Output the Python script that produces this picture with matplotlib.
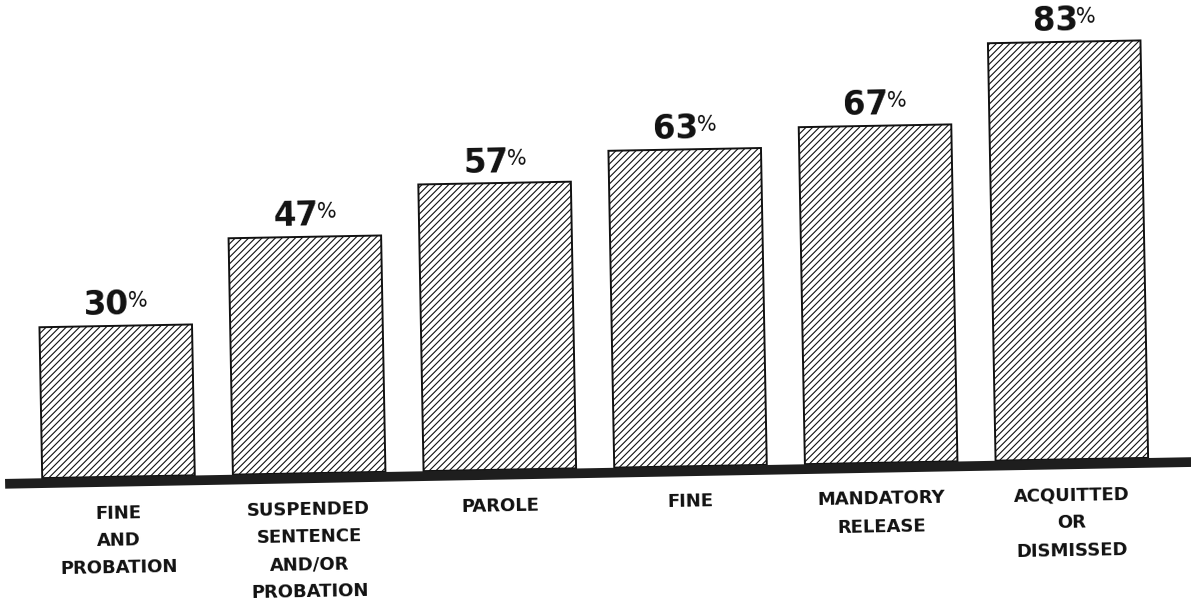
import matplotlib
matplotlib.use("Agg")
import matplotlib.pyplot as plt
from matplotlib.transforms import Affine2D
import numpy as np

categories = ["FINE\nAND\nPROBATION",
              "SUSPENDED\nSENTENCE\nAND/OR\nPROBATION",
              "PAROLE",
              "FINE",
              "MANDATORY\nRELEASE",
              "ACQUITTED\nOR\nDISMISSED"]
values = [30, 47, 57, 63, 67, 83]

plt.rcParams['hatch.linewidth'] = 0.8
plt.rcParams['hatch.color'] = '#111111'

W, H, DPI = 1191, 610, 100
fig = plt.figure(figsize=(W / DPI, H / DPI), dpi=DPI)
ax = fig.add_axes([0, 0, 1, 1])
ax.set_axis_off()

# unrotated frame: bar i centred at px 118.5 + 190.7 i, value 0 at px 142, 5.03 px per %
x0, dx = 118.5, 190.7
y0, dy = 142.0, 5.03
ax.set_xlim(-x0 / dx, (W - x0) / dx)
ax.set_ylim(-y0 / dy, (H - y0) / dy)

# the scanned page is tilted by about one degree
rot = Affine2D().rotate_deg_around(595, 137.5, 1.05)
tr = ax.transData + rot

x = np.arange(len(values))
bars = ax.bar(x, values, width=0.8, color='white', edgecolor='#111111',
              linewidth=1.4, hatch='/////')
for b in bars:
    b.set_transform(tr)

# baseline
base_y = (137.0 - y0) / dy
ax.plot([(5 - x0) / dx, (W + 10 - x0) / dx], [base_y, base_y], color='#1e1e1e',
        linewidth=7.0, solid_capstyle='butt', transform=tr)

for i, v in enumerate(values):
    t = ax.annotate(f"{v}", xy=(i, v), xycoords=tr, xytext=(-6.5, 7.5),
                    textcoords='offset points', ha='center', va='baseline',
                    fontsize=23.5, fontweight='bold', family='DejaVu Sans',
                    color='#111111', rotation=1.05)
    ax.annotate("%", xy=(1.0, 0.93), xycoords=t, xytext=(-1.5, 0),
                textcoords='offset points', ha='left', va='top',
                fontsize=15, family='DejaVu Sans', color='#111111',
                rotation=1.05)
    ax.annotate(categories[i], xy=(i, 0), xycoords=tr, xytext=(0, -19),
                textcoords='offset points', ha='center', va='top',
                multialignment='center', fontsize=13, fontweight='bold',
                family='DejaVu Sans', linespacing=1.68, color='#111111',
                rotation=1.05)

fig.savefig("out.png", dpi=DPI, facecolor='white')
